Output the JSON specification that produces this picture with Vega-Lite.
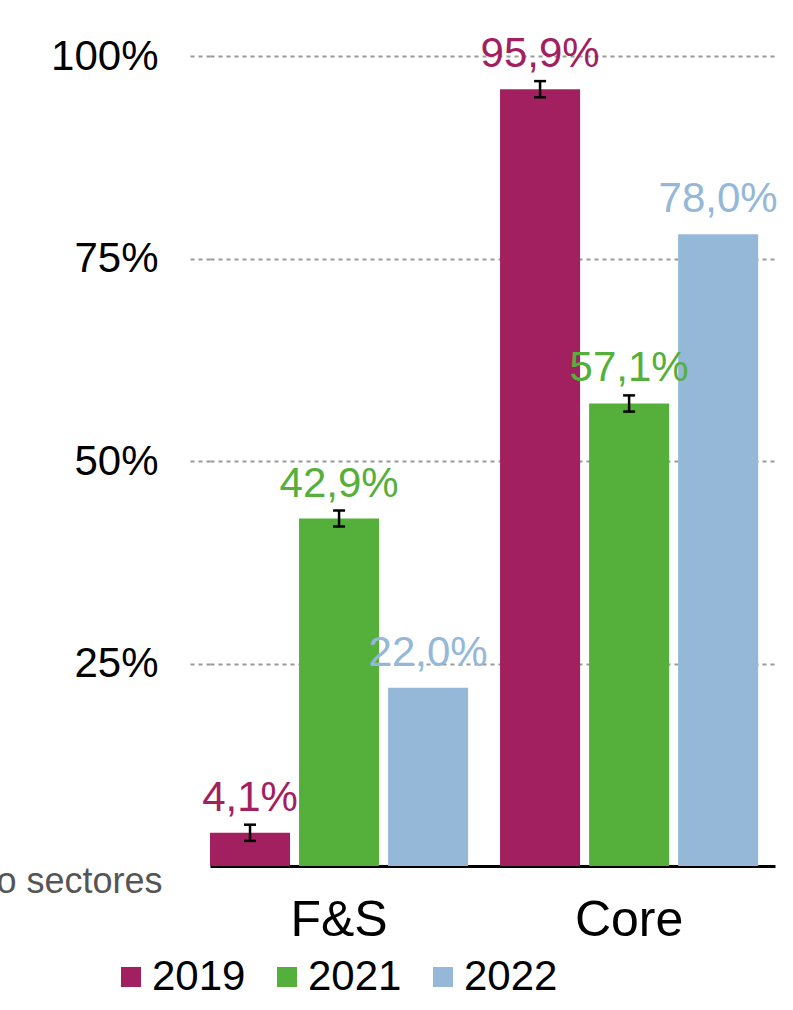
{
  "$schema": "https://vega.github.io/schema/vega-lite/v6.json",
  "width": 565,
  "height": 810,
  "autosize": {"type": "none"},
  "padding": {"left": 210, "top": 56, "right": 18, "bottom": 144},
  "config": {
    "view": {"stroke": null},
    "font": "Liberation Sans"
  },
  "data": {
    "values": [
      {"group": "F&S", "year": "2019", "value": 4.1, "label": "4,1%", "lo": 3.1, "hi": 5.1},
      {"group": "F&S", "year": "2021", "value": 42.9, "label": "42,9%", "lo": 41.9, "hi": 43.9},
      {"group": "F&S", "year": "2022", "value": 22.0, "label": "22,0%", "lo": null, "hi": null},
      {"group": "Core", "year": "2019", "value": 95.9, "label": "95,9%", "lo": 94.9, "hi": 96.9},
      {"group": "Core", "year": "2021", "value": 57.1, "label": "57,1%", "lo": 56.1, "hi": 58.1},
      {"group": "Core", "year": "2022", "value": 78.0, "label": "78,0%", "lo": null, "hi": null}
    ]
  },
  "encoding": {
    "x": {
      "field": "group",
      "type": "nominal",
      "sort": ["F&S", "Core"],
      "scale": {"paddingInner": 0.11, "paddingOuter": 0.029, "align": 0},
      "axis": {
        "title": null,
        "labelAngle": 0,
        "labelFontSize": 50,
        "labelColor": "#000000",
        "labelPadding": 29,
        "ticks": false,
        "domainColor": "#000000",
        "domainWidth": 3
      }
    },
    "xOffset": {
      "field": "year",
      "type": "nominal",
      "scale": {"paddingInner": 0.101, "paddingOuter": 0}
    }
  },
  "layer": [
    {
      "mark": {"type": "bar"},
      "encoding": {
        "y": {
          "field": "value",
          "type": "quantitative",
          "scale": {"domain": [0, 100]},
          "axis": {
            "values": [25, 50, 75, 100],
            "labelExpr": "datum.value + '%'",
            "labelFontSize": 42,
            "labelColor": "#000000",
            "labelPadding": 32,
            "domain": false,
            "tickSize": 20,
            "tickColor": "#999999",
            "tickDash": [4, 4],
            "tickWidth": 2,
            "grid": true,
            "gridColor": "#999999",
            "gridDash": [4, 4],
            "gridWidth": 2,
            "title": "o sectores",
            "titleAngle": 0,
            "titleAlign": "right",
            "titleBaseline": "alphabetic",
            "titleX": -48,
            "titleY": 836,
            "titleFontSize": 36,
            "titleFontWeight": "normal",
            "titleColor": "#555555"
          }
        },
        "color": {
          "field": "year",
          "type": "nominal",
          "scale": {"domain": ["2019", "2021", "2022"], "range": ["#A32060", "#55B03B", "#95B8D8"]},
          "legend": {
            "orient": "none",
            "legendX": -100,
            "legendY": 900,
            "direction": "horizontal",
            "title": null,
            "symbolType": "square",
            "symbolSize": 400,
            "symbolStrokeWidth": 0,
            "labelFontSize": 42,
            "labelColor": "#000000",
            "labelOffset": 0,
            "columnPadding": 20,
            "padding": 0
          }
        }
      }
    },
    {
      "mark": {"type": "text", "dy": -22, "baseline": "alphabetic", "fontSize": 42},
      "encoding": {
        "y": {"field": "value", "type": "quantitative"},
        "text": {"field": "label"},
        "color": {"field": "year", "type": "nominal"}
      }
    },
    {
      "transform": [{"filter": "datum.lo != null"}],
      "mark": {"type": "rule", "color": "#000000", "strokeWidth": 2.5},
      "encoding": {
        "y": {"field": "lo", "type": "quantitative"},
        "y2": {"field": "hi"}
      }
    },
    {
      "transform": [{"filter": "datum.lo != null"}],
      "mark": {"type": "tick", "color": "#000000", "thickness": 2.5, "size": 12, "opacity": 1},
      "encoding": {
        "y": {"field": "lo", "type": "quantitative"}
      }
    },
    {
      "transform": [{"filter": "datum.lo != null"}],
      "mark": {"type": "tick", "color": "#000000", "thickness": 2.5, "size": 12, "opacity": 1},
      "encoding": {
        "y": {"field": "hi", "type": "quantitative"}
      }
    }
  ]
}
